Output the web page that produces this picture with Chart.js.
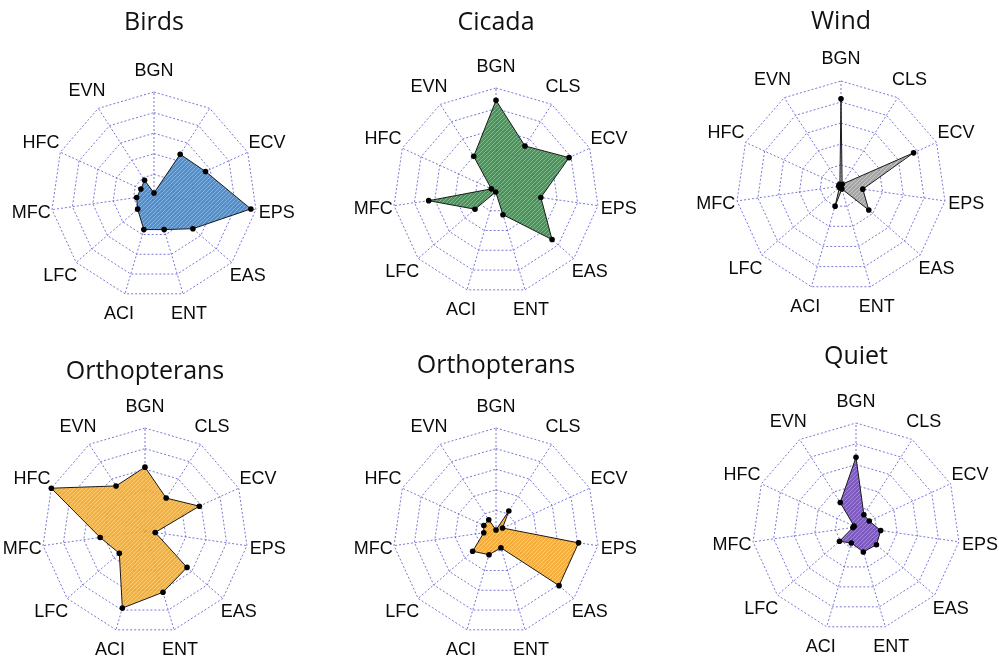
<!DOCTYPE html>
<html>
<head>
<meta charset="utf-8">
<script src="https://cdn.jsdelivr.net/npm/chart.js@4.4.1/dist/chart.umd.min.js"></script>
<style>
  html, body { margin: 0; padding: 0; background: #fff; width: 999px; height: 664px; overflow: hidden; }
  #wrap { position: relative; width: 999px; height: 664px; overflow: hidden; }
  canvas { position: absolute; }
</style>
</head>
<body>
<div id="wrap"></div>
<script>
// Acoustic indices shown on every radar
const axisLabels = ['BGN', 'CLS', 'ECV', 'EPS', 'EAS', 'ENT', 'ACI', 'LFC', 'MFC', 'HFC', 'EVN'];
const birdsLabels = ['BGN', '', 'ECV', 'EPS', 'EAS', 'ENT', 'ACI', 'LFC', 'MFC', 'HFC', 'EVN'];

// Scaled index values (0 to 1) per sound class
const birds   = [0.02, 0.47, 0.55, 0.95, 0.50, 0.35, 0.35, 0.21, 0.17, 0.14, 0.17];
const cicada  = [0.88, 0.52, 0.78, 0.44, 0.72, 0.24, 0.01, 0.27, 0.66, 0.05, 0.40];
const wind    = [0.83, 0.02, 0.76, 0.21, 0.35, 0.03, 0.20, 0.02, 0.02, 0.02, 0.02];
const orthopteransA = [0.62, 0.38, 0.58, 0.10, 0.54, 0.62, 0.78, 0.33, 0.44, 1.00, 0.52];
const orthopteransB = [0.01, 0.23, 0.07, 0.81, 0.81, 0.17, 0.24, 0.30, 0.12, 0.13, 0.13];
const quiet   = [0.67, 0.14, 0.14, 0.24, 0.26, 0.25, 0.16, 0.21, 0.03, 0.02, 0.28];

const titles = ['Birds', 'Cicada', 'Wind', 'Orthopterans', 'Orthopterans', 'Quiet'];
const seriesList = [birds, cicada, wind, orthopteransA, orthopteransB, quiet];
const labelSets = [birdsLabels, axisLabels, axisLabels, axisLabels, axisLabels, axisLabels];

// Fill colours: base tone and lighter hatch stroke
const fills = [
  ['#3f7fc0', '#8dbbe8'],
  ['#3a8249', '#86c393'],
  ['#9a9a9a', '#cfcfcf'],
  ['#f5a524', '#fdd07e'],
  ['#f5a524', '#fdd07e'],
  ['#6d47b6', '#a98ee2']
];

// Panel geometry: radar centre, radius, title centre line
const panels = [
  { cx: 154, cy: 195, r: 103, ty: 23 },
  { cx: 496, cy: 191, r: 103, ty: 23 },
  { cx: 841, cy: 186, r: 105, ty: 22 },
  { cx: 145, cy: 531, r: 103, ty: 372 },
  { cx: 496, cy: 531, r: 103, ty: 366 },
  { cx: 856, cy: 527, r: 104, ty: 357 }
];

const LABEL_SIZE = 18, LABEL_DIST = 1.205, TITLE_SIZE = 25;
const titleLine = TITLE_SIZE * 1.2;
const SIDE = 60, BOTTOM = 40, TITLE_TOP = 4;

function hatch(base, light) {
  const t = document.createElement('canvas');
  t.width = 4; t.height = 4;
  const c = t.getContext('2d');
  c.globalAlpha = 0.88;
  c.fillStyle = base;
  c.fillRect(0, 0, 4, 4);
  c.strokeStyle = light;
  c.lineWidth = 1;
  c.beginPath();
  c.moveTo(-1, 5); c.lineTo(5, -1);
  c.moveTo(-1, 1); c.lineTo(1, -1);
  c.moveTo(3, 5); c.lineTo(5, 3);
  c.stroke();
  const ctx = document.createElement('canvas').getContext('2d');
  return ctx.createPattern(t, 'repeat');
}

// Axis names centred on each spoke, just outside the outer ring
const axisNamePlugin = {
  id: 'axisNames',
  afterDraw(chart) {
    const s = chart.scales.r;
    const ctx = chart.ctx;
    ctx.save();
    ctx.font = LABEL_SIZE + 'px "Liberation Sans", Arial, sans-serif';
    ctx.fillStyle = '#0a0a0a';
    ctx.textAlign = 'center';
    ctx.textBaseline = 'middle';
    chart.data.labels.forEach((name, i) => {
      if (!name) return;
      const pos = s.getPointPosition(i, s.drawingArea * LABEL_DIST);
      ctx.fillText(name, pos.x, pos.y);
    });
    ctx.restore();
  }
};

const gridColor = 'rgba(75, 75, 200, 0.75)';
const wrap = document.getElementById('wrap');

panels.forEach((p, i) => {
  const W = 2 * p.r + 2 * SIDE;
  const top = Math.round(p.ty - titleLine / 2 - TITLE_TOP);
  const areaTop = p.cy - p.r;
  const padBottom = areaTop - top - TITLE_TOP - titleLine;
  const H = Math.round(areaTop - top + 2 * p.r + BOTTOM);

  const cv = document.createElement('canvas');
  cv.width = W; cv.height = H;
  cv.style.left = Math.round(p.cx - SIDE - p.r) + 'px';
  cv.style.top = top + 'px';
  cv.style.width = W + 'px';
  cv.style.height = H + 'px';
  wrap.appendChild(cv);

  new Chart(cv.getContext('2d'), {
    type: 'radar',
    data: {
      labels: labelSets[i],
      datasets: [{
        data: seriesList[i],
        backgroundColor: hatch(fills[i][0], fills[i][1]),
        borderColor: '#1a1a1a',
        borderWidth: 1,
        pointRadius: 2.8,
        pointBackgroundColor: '#000',
        pointBorderWidth: 0,
        fill: true
      }]
    },
    plugins: [axisNamePlugin],
    options: {
      responsive: false,
      animation: false,
      devicePixelRatio: 1,
      layout: { padding: { left: SIDE, right: SIDE, top: 0, bottom: BOTTOM } },
      plugins: {
        legend: { display: false },
        tooltip: { enabled: false },
        title: {
          display: true,
          text: titles[i],
          color: '#111',
          font: { family: 'Open Sans', size: TITLE_SIZE, weight: 'normal' },
          padding: { top: TITLE_TOP, bottom: padBottom }
        }
      },
      scales: {
        r: {
          min: 0,
          max: 1,
          ticks: { display: false, stepSize: 0.2 },
          grid: { color: gridColor, lineWidth: 1 },
          border: { dash: [2, 2] },
          angleLines: { color: gridColor, lineWidth: 1, borderDash: [2, 2] },
          pointLabels: { display: false }
        }
      }
    }
  });
});
</script>
</body>
</html>
